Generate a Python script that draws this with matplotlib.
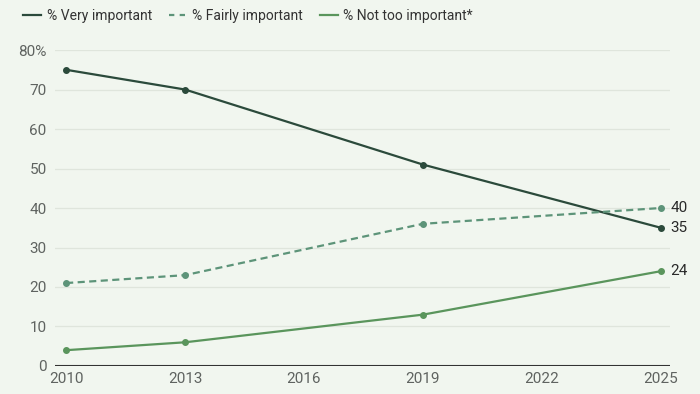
import numpy as np
import matplotlib
matplotlib.use("Agg")
import matplotlib.pyplot as plt
from matplotlib.lines import Line2D

years = [2010, 2013, 2019, 2025]
very = [75, 70, 51, 35]
fairly = [21, 23, 36, 40]
not_too = [4, 6, 13, 24]
series_names = ["% Very important", "% Fairly important", "% Not too important*"]
x_ticks = [2010, 2013, 2016, 2019, 2022, 2025]
y_ticks = [0, 10, 20, 30, 40, 50, 60, 70, 80]

BG = "#f1f6ef"
C_VERY = "#2b4a3b"
C_FAIR = "#5d9479"
C_NOT = "#5a955c"
TXT = "#5f6360"

plt.rcParams['font.family'] = ['Roboto', 'DejaVu Sans']

fig = plt.figure(figsize=(7, 3.94), dpi=100, facecolor=BG)
ax = fig.add_axes([0.0786, 0.0711, 0.957 - 0.0786, 0.873 - 0.0711])
ax.set_facecolor(BG)
ax.set_xlim(2009.72, 2025.23)
ax.set_ylim(0, 80)

for yt in y_ticks[1:]:
    ax.axhline(yt, color="#dfe5dc", lw=0.9, zorder=0)
ax.axhline(0, color="#333333", lw=1.5, zorder=3)

LW = 1.6
for vals, col, ls in [(very, C_VERY, "-"), (fairly, C_FAIR, (0, (3.2, 2.0))), (not_too, C_NOT, "-")]:
    ax.plot(years, vals, color=col, lw=LW, linestyle=ls, zorder=4, solid_joinstyle="round",
            dash_capstyle="butt")
    ax.plot(years, vals, "o", color=col, ms=4.0, zorder=5)

for vals, col in [(fairly, C_FAIR), (very, C_VERY), (not_too, C_NOT)]:
    ax.annotate(f"{vals[-1]}", (years[-1], vals[-1]), xytext=(7, 0), textcoords="offset points",
                va="center", ha="left", fontsize=11, color="#2a2a2a", annotation_clip=False)

for s in ax.spines.values():
    s.set_visible(False)
ax.set_xticks(x_ticks)
ax.set_xticklabels([str(v) for v in x_ticks])
ax.set_yticks(y_ticks)
ax.set_yticklabels([f"{v}%" if v == 80 else str(v) for v in y_ticks])
ax.tick_params(axis="both", length=0, labelsize=11, colors=TXT)
ax.tick_params(axis="y", pad=6)
ax.tick_params(axis="x", pad=4)

handles = [
    Line2D([], [], color=C_VERY, lw=LW),
    Line2D([], [], color=C_FAIR, lw=LW, linestyle=(0, (2.4, 2.4))),
    Line2D([], [], color=C_NOT, lw=LW),
]
leg = fig.legend(handles, series_names, loc="upper left", bbox_to_anchor=(0.015, 1.01), ncol=3,
                 frameon=False, fontsize=10, handlelength=1.3, handletextpad=0.4, columnspacing=1.2,
                 labelcolor="#333333")

fig.savefig("out.png", dpi=100, facecolor=BG)
